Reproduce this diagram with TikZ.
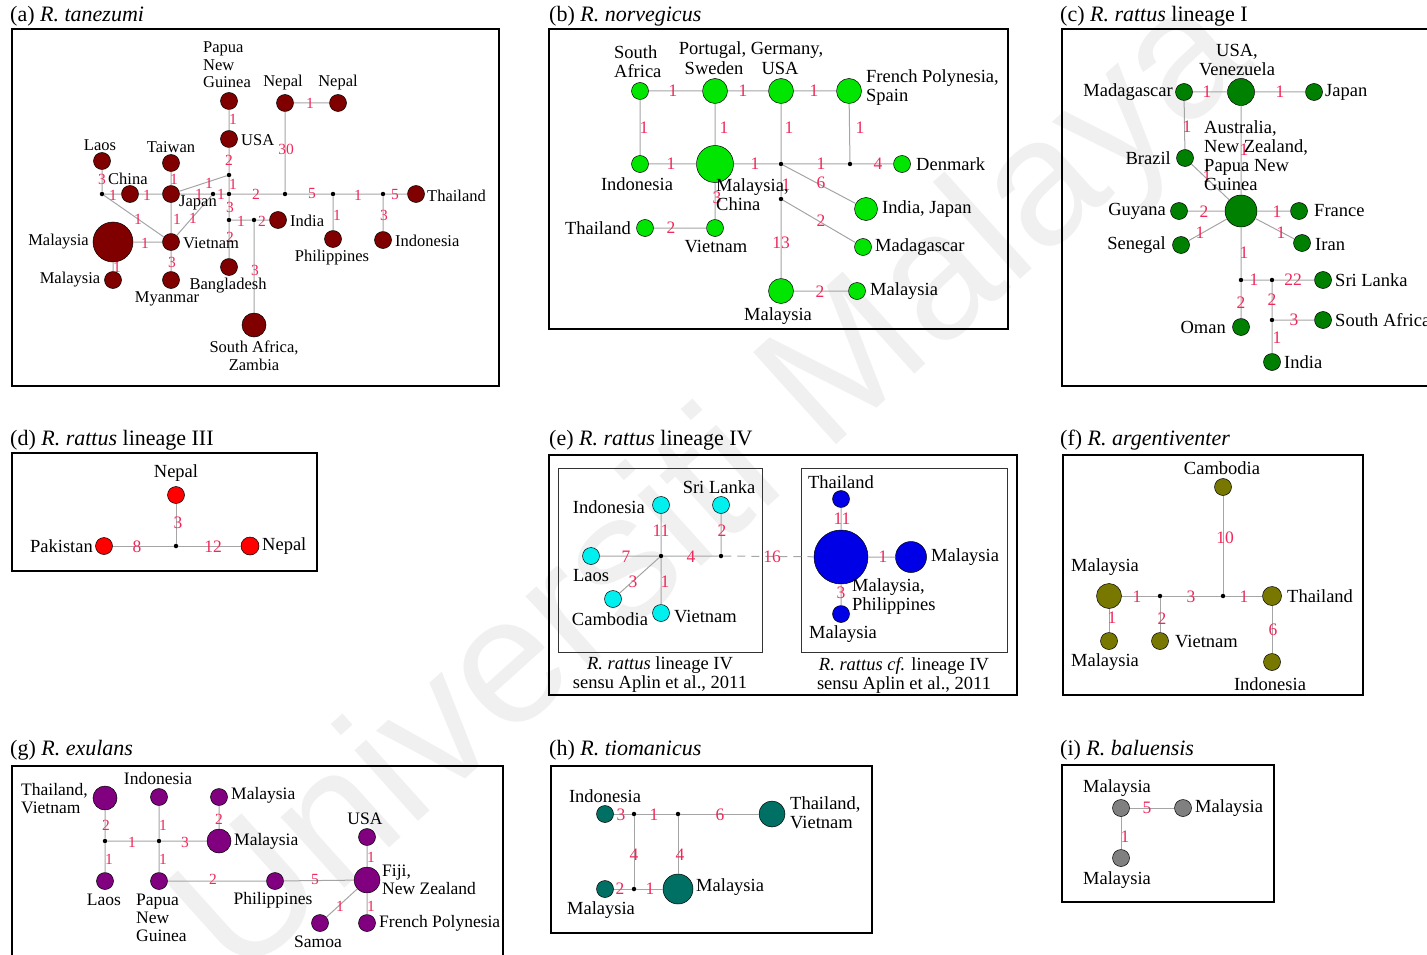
\documentclass[tikz,border=0pt]{standalone}
\usepackage{fontspec}
\setmainfont{Liberation Serif}
\newfontfamily\wmfont{Liberation Sans}
\definecolor{numred}{RGB}{240,40,90}
\definecolor{edgegray}{RGB}{165,165,165}
\definecolor{cA}{RGB}{128,0,0}
\definecolor{cB}{RGB}{0,230,0}
\definecolor{cC}{RGB}{0,128,0}
\definecolor{cD}{RGB}{255,0,0}
\definecolor{cEa}{RGB}{0,240,240}
\definecolor{cEb}{RGB}{0,0,230}
\definecolor{cF}{RGB}{120,120,0}
\definecolor{cG}{RGB}{128,0,128}
\definecolor{cH}{RGB}{0,112,100}
\definecolor{cI}{RGB}{128,128,128}
\newcommand\labfontS{\fontsize{16.5}{17.5}\selectfont}
\newcommand\labfontM{\fontsize{17.5}{18}\selectfont}
\newcommand\labfont{\fontsize{18.5}{19}\selectfont}
\newcommand\numfontS{\fontsize{15.5}{16}\selectfont}
\newcommand\numfont{\fontsize{17.5}{18}\selectfont}
\newcommand\ttlfont{\fontsize{22}{22}\selectfont}
\tikzset{
  hap/.style={circle, draw=black, line width=0.5pt, inner sep=0pt, minimum size=#1},
  hap/.default=17pt,
  med/.style={circle, fill=black, inner sep=0pt, minimum size=4.5pt},
  link/.style={draw=edgegray, line width=1pt},
  num/.style={text=numred, font=\numfont, inner sep=0pt},
  numS/.style={text=numred, font=\numfontS, inner sep=0pt},
  lab/.style={font=\labfont, inner sep=0pt},
  labS/.style={font=\labfontS, inner sep=0pt},
  labM/.style={font=\labfontM, inner sep=0pt},
  ttl/.style={font=\ttlfont, anchor=west, inner sep=0pt},
  pbox/.style={draw=black, line width=1.3pt},
  pboxthin/.style={draw=black!80, line width=0.9pt},
}
\begin{document}
\begin{tikzpicture}[x=1pt,y=-1pt]
\useasboundingbox (0,0) rectangle (1427,955);
% watermark
\node[rotate=42, text=black!6, font={\wmfont\fontsize{180}{180}\selectfont}] (wm) at (717,490) {Universiti Malaya};

% ================= (a) =================
\draw[pbox] (12,29) rectangle (499,386);
\node[ttl] (ta) at (10,16) {(a) \textit{R. tanezumi}};
\node[hap,fill=cA] (aPNG) at (229,101) {};
\node[hap,fill=cA] (aNep1) at (285,103) {};
\node[hap,fill=cA] (aNep2) at (338,103) {};
\node[hap,fill=cA] (aUSA) at (229,139) {};
\node[hap,fill=cA] (aLaos) at (102,161) {};
\node[hap,fill=cA] (aTai) at (171,163) {};
\node[hap,fill=cA] (aChi) at (130,194) {};
\node[hap,fill=cA] (aJap) at (171,194) {};
\node[hap=40pt,fill=cA] (aMal) at (113,242) {};
\node[hap,fill=cA] (aVie) at (171,242) {};
\node[hap,fill=cA] (aMal2) at (113,280) {};
\node[hap,fill=cA] (aMya) at (171,280) {};
\node[hap,fill=cA] (aBan) at (229,267) {};
\node[hap=24pt,fill=cA] (aSAZ) at (254,325) {};
\node[hap,fill=cA] (aInd) at (278,220) {};
\node[hap,fill=cA] (aPhi) at (333,239) {};
\node[hap,fill=cA] (aIdn) at (383,240) {};
\node[hap,fill=cA] (aTha) at (416,194) {};
\node[med] (am1) at (102,194) {};
\node[med] (am2) at (213,194) {};
\node[med] (am3) at (229,194) {};
\node[med] (am4) at (229,175) {};
\node[med] (am5) at (285,194) {};
\node[med] (am6) at (333,194) {};
\node[med] (am7) at (383,194) {};
\node[med] (am8) at (229,220) {};
\node[med] (am9) at (254,220) {};
\draw[link] (aPNG)--(aUSA) (aNep1)--(aNep2) (aNep1)--(am5) (aUSA)--(am4) (am4)--(am3)
  (aJap)--(am4) (aLaos)--(am1) (am1)--(aChi) (aChi)--(aJap) (aJap)--(am2) (am2)--(am3)
  (am3)--(am5) (am5)--(am6) (am6)--(am7) (am7)--(aTha) (am6)--(aPhi) (am7)--(aIdn)
  (aTai)--(aJap) (aJap)--(aVie) (am2)--(aVie) (am1)--(aVie) (aMal)--(aVie) (aMal)--(aMal2)
  (aVie)--(aMya) (am3)--(am8) (am8)--(aBan) (am8)--(am9) (am9)--(aInd) (am9)--(aSAZ);
\node[numS] (na1) at (233,119) {1};
\node[numS] (na2) at (310,103) {1};
\node[numS] (na3) at (286,149) {30};
\node[numS] (na4) at (229,160) {2};
\node[numS] (na5) at (233,184) {1};
\node[numS] (na6) at (209,183) {1};
\node[numS] (na7) at (102,179) {3};
\node[numS] (na8) at (113,195) {1};
\node[numS] (na9) at (147,195) {1};
\node[numS] (na10) at (199,194) {1};
\node[numS] (na11) at (221,194) {1};
\node[numS] (na12) at (256,194) {2};
\node[numS] (na13) at (312,194) {5};
\node[numS] (na14) at (358,195) {1};
\node[numS] (na15) at (395,195) {5};
\node[numS] (na16) at (337,215) {1};
\node[numS] (na17) at (384,215) {3};
\node[numS] (na18) at (174,179) {1};
\node[numS] (na19) at (177,219) {1};
\node[numS] (na20) at (193,218) {1};
\node[numS] (na21) at (138,219) {1};
\node[numS] (na22) at (145,243) {1};
\node[numS] (na23) at (117,267) {1};
\node[numS] (na24) at (172,262) {3};
\node[numS] (na25) at (230,207) {3};
\node[numS] (na26) at (230,237) {2};
\node[numS] (na27) at (241,221) {1};
\node[numS] (na28) at (262,221) {2};
\node[numS] (na29) at (255,270) {3};
\node[labS, anchor=west, align=left] (laPNG) at (203,65) {Papua\\New\\Guinea};
\node[labS] (laNep1) at (283,83) {Nepal};
\node[labS] (laNep2) at (338,83) {Nepal};
\node[labS, anchor=west] (laUSA) at (241,140) {USA};
\node[labS] (laLaos) at (100,145) {Laos};
\node[labS] (laTai) at (171,147) {Taiwan};
\node[labS, anchor=west] (laChi) at (108,179) {China};
\node[labS] (laJap) at (198,203) {Japan};
\node[labS, anchor=east] (laMal) at (89,242) {Malaysia};
\node[labS, anchor=west] (laVie) at (183,243) {Vietnam};
\node[labS] (laMal2) at (70,280) {Malaysia};
\node[labS] (laMya) at (167,299) {Myanmar};
\node[labS] (laBan) at (228,286) {Bangladesh};
\node[labS, align=center] (laSAZ) at (254,356) {South Africa,\\Zambia};
\node[labS, anchor=west] (laInd) at (290,221) {India};
\node[labS] (laPhi) at (332,258) {Philippines};
\node[labS, anchor=west] (laIdn) at (395,241) {Indonesia};
\node[labS, anchor=west] (laTha) at (427,196) {Thailand};

% ================= (b) =================
\draw[pbox] (549,29) rectangle (1008,329);
\node[ttl] (tb) at (549,16) {(b) \textit{R. norvegicus}};
\node[hap,fill=cB] (bSA) at (640,91) {};
\node[hap=25pt,fill=cB] (bPGS) at (715,91) {};
\node[hap=25pt,fill=cB] (bUSA) at (781,91) {};
\node[hap=25pt,fill=cB] (bFP) at (849,91) {};
\node[hap,fill=cB] (bIdn) at (640,164) {};
\node[hap=37pt,fill=cB] (bMC) at (715,164) {};
\node[med] (bm1) at (781,164) {};
\node[med] (bm2) at (850,164) {};
\node[hap,fill=cB] (bDen) at (902,164) {};
\node[med] (bm3) at (781,199) {};
\node[hap=23pt,fill=cB] (bIJ) at (866,209) {};
\node[hap,fill=cB] (bMad) at (863,247) {};
\node[hap,fill=cB] (bTha) at (645,228) {};
\node[hap,fill=cB] (bVie) at (715,228) {};
\node[hap=25pt,fill=cB] (bMal) at (781,291) {};
\node[hap,fill=cB] (bMal2) at (857,291) {};
\draw[link] (bSA)--(bPGS) (bPGS)--(bUSA) (bUSA)--(bFP) (bSA)--(bIdn) (bPGS)--(bMC)
  (bUSA)--(bm1) (bFP)--(bm2) (bIdn)--(bMC) (bMC)--(bm1) (bm1)--(bm2) (bm2)--(bDen)
  (bm1)--(bIJ) (bm1)--(bm3) (bm3)--(bMad) (bm3)--(bMal) (bMal)--(bMal2) (bMC)--(bVie)
  (bTha)--(bVie);
\node[num] (nb1) at (673,91) {1};
\node[num] (nb2) at (743,91) {1};
\node[num] (nb3) at (814,91) {1};
\node[num] (nb4) at (644,128) {1};
\node[num] (nb5) at (724,128) {1};
\node[num] (nb6) at (789,128) {1};
\node[num] (nb7) at (860,128) {1};
\node[num] (nb8) at (671,164) {1};
\node[num] (nb9) at (755,164) {1};
\node[num] (nb10) at (821,164) {1};
\node[num] (nb11) at (878,164) {4};
\node[num] (nb12) at (821,183) {6};
\node[num] (nb13) at (786,185) {1};
\node[num] (nb14) at (821,221) {2};
\node[num] (nb15) at (781,243) {13};
\node[num] (nb16) at (820,292) {2};
\node[num] (nb17) at (717,198) {3};
\node[num] (nb18) at (671,228) {2};
\node[lab, anchor=west, align=left] (lbSA) at (614,62) {South\\Africa};
\node[lab] (lbPG) at (751,50) {Portugal, Germany,};
\node[lab] (lbSw) at (714,68) {Sweden};
\node[lab] (lbUSA) at (780,68) {USA};
\node[lab, anchor=west, align=left] (lbFP) at (866,88) {French Polynesia,\\Spain};
\node[lab] (lbIdn) at (637,184) {Indonesia};
\node[lab, anchor=west, align=left] (lbMC) at (716,195) {Malaysia,\\China};
\node[lab, anchor=west] (lbDen) at (916,164) {Denmark};
\node[lab, anchor=west] (lbIJ) at (882,209) {India, Japan};
\node[lab, anchor=west] (lbMad) at (875,247) {Madagascar};
\node[lab, anchor=east] (lbTha) at (631,228) {Thailand};
\node[lab] (lbVie) at (716,247) {Vietnam};
\node[lab, anchor=west] (lbMal2) at (870,291) {Malaysia};
\node[lab] (lbMal) at (778,316) {Malaysia};

% ================= (c) =================
\draw[pbox] (1062,29) rectangle (1445,386);
\node[ttl] (tc) at (1060,16) {(c) \textit{R. rattus} lineage I};
\node[hap,fill=cC] (cMad) at (1184,92) {};
\node[hap=27pt,fill=cC] (cUV) at (1241,92) {};
\node[hap,fill=cC] (cJap) at (1314,92) {};
\node[hap,fill=cC] (cBra) at (1185,158) {};
\node[hap=32pt,fill=cC] (cCen) at (1241,211) {};
\node[hap,fill=cC] (cGuy) at (1179,211) {};
\node[hap,fill=cC] (cFra) at (1299,211) {};
\node[hap,fill=cC] (cSen) at (1181,245) {};
\node[hap,fill=cC] (cIra) at (1302,243) {};
\node[med] (cm1) at (1241,280) {};
\node[med] (cm2) at (1272,280) {};
\node[hap,fill=cC] (cSri) at (1323,280) {};
\node[med] (cm3) at (1272,320) {};
\node[hap,fill=cC] (cSAf) at (1323,320) {};
\node[hap,fill=cC] (cOma) at (1241,327) {};
\node[hap,fill=cC] (cInd) at (1272,362) {};
\draw[link] (cMad)--(cUV) (cUV)--(cJap) (cMad)--(cBra) (cUV)--(cCen) (cBra)--(cCen)
  (cGuy)--(cCen) (cCen)--(cFra) (cCen)--(cSen) (cCen)--(cIra) (cCen)--(cm1)
  (cm1)--(cm2) (cm2)--(cSri) (cm1)--(cOma) (cm2)--(cm3) (cm3)--(cSAf) (cm3)--(cInd);
\node[num] (nc1) at (1207,92) {1};
\node[num] (nc2) at (1280,92) {1};
\node[num] (nc3) at (1187,127) {1};
\node[num] (nc4) at (1244,150) {1};
\node[num] (nc5) at (1207,177) {1};
\node[num] (nc6) at (1204,212) {2};
\node[num] (nc7) at (1277,212) {1};
\node[num] (nc8) at (1200,233) {1};
\node[num] (nc9) at (1281,233) {1};
\node[num] (nc10) at (1244,253) {1};
\node[num] (nc11) at (1254,280) {1};
\node[num] (nc12) at (1293,280) {22};
\node[num] (nc13) at (1241,303) {2};
\node[num] (nc14) at (1272,300) {2};
\node[num] (nc15) at (1294,320) {3};
\node[num] (nc16) at (1277,338) {1};
\node[lab, align=center] (lcUV) at (1237,60) {USA,\\Venezuela};
\node[lab, anchor=east] (lcMad) at (1173,92) {Madagascar};
\node[lab, anchor=west] (lcJap) at (1325,92) {Japan};
\node[lab, anchor=west, align=left] (lcCen) at (1204,156) {Australia,\\New Zealand,\\Papua New\\Guinea};
\node[lab, anchor=east] (lcBra) at (1171,158) {Brazil};
\node[lab, anchor=east] (lcGuy) at (1166,211) {Guyana};
\node[lab, anchor=west] (lcFra) at (1314,211) {France};
\node[lab, anchor=east] (lcSen) at (1166,245) {Senegal};
\node[lab, anchor=west] (lcIra) at (1315,245) {Iran};
\node[lab, anchor=west] (lcSri) at (1335,280) {Sri Lanka};
\node[lab, anchor=west] (lcSAf) at (1335,320) {South Africa};
\node[lab, anchor=east] (lcOma) at (1226,327) {Oman};
\node[lab, anchor=west] (lcInd) at (1284,362) {India};

% ================= (d) =================
\draw[pbox] (12,453) rectangle (317,571);
\node[ttl] (td) at (10,440) {(d) \textit{R. rattus} lineage III};
\node[hap,fill=cD] (dNep) at (176,495) {};
\node[hap,fill=cD] (dPak) at (104,546) {};
\node[hap=18pt,fill=cD] (dNep2) at (250,546) {};
\node[med] (dm) at (176,546) {};
\draw[link] (dNep)--(dm) (dPak)--(dm) (dm)--(dNep2);
\node[num] (nd1) at (178,523) {3};
\node[num] (nd2) at (137,547) {8};
\node[num] (nd3) at (213,547) {12};
\node[lab] (ldNep) at (176,473) {Nepal};
\node[lab, anchor=east] (ldPak) at (93,546) {Pakistan};
\node[lab, anchor=west] (ldNep2) at (262,546) {Nepal};

% ================= (e) =================
\draw[pbox] (549,455) rectangle (1017,695);
\draw[pboxthin] (558,468) rectangle (762,652);
\draw[pboxthin] (801,468) rectangle (1007,652);
\node[ttl] (te) at (549,440) {(e) \textit{R. rattus} lineage IV};
\node[hap,fill=cEa] (eIdn) at (661,505) {};
\node[hap,fill=cEa] (eSri) at (721,505) {};
\node[hap,fill=cEa] (eLao) at (591,556) {};
\node[med] (em1) at (661,556) {};
\node[med] (em2) at (721,556) {};
\node[hap,fill=cEa] (eCam) at (613,599) {};
\node[hap,fill=cEa] (eVie) at (661,613) {};
\node[hap,fill=cEb] (eTha) at (841,499) {};
\node[hap=54pt,fill=cEb] (eBig) at (841,557) {};
\node[hap=31pt,fill=cEb] (eMal) at (911,557) {};
\node[hap,fill=cEb] (eMal2) at (841,614) {};
\draw[link] (eIdn)--(em1) (eSri)--(em2) (eLao)--(em1) (em1)--(em2) (em1)--(eCam)
  (em1)--(eVie) (eTha)--(eBig) (eBig)--(eMal) (eBig)--(eMal2);
\draw[link, dash pattern=on 8pt off 6pt] (em2)--(eBig);
\node[num] (ne1) at (661,531) {11};
\node[num] (ne2) at (722,531) {2};
\node[num] (ne3) at (626,557) {7};
\node[num] (ne4) at (691,557) {4};
\node[num] (ne5) at (633,582) {3};
\node[num] (ne6) at (665,582) {1};
\node[num] (ne7) at (772,557) {16};
\node[num] (ne8) at (842,519) {11};
\node[num] (ne9) at (883,557) {1};
\node[num] (ne10) at (841,593) {3};
\node[lab, anchor=east] (leIdn) at (645,507) {Indonesia};
\node[lab] (leSri) at (719,487) {Sri Lanka};
\node[lab] (leLao) at (591,576) {Laos};
\node[lab] (leCam) at (610,619) {Cambodia};
\node[lab, anchor=west] (leVie) at (674,617) {Vietnam};
\node[lab] (leTha) at (841,482) {Thailand};
\node[lab, anchor=west] (leMal) at (931,557) {Malaysia};
\node[lab, anchor=west, align=left] (leMP) at (852,597) {Malaysia,\\Philippines};
\node[lab] (leMal2) at (843,634) {Malaysia};
\node[lab, align=center] (lecap1) at (660,675) {\textit{R. rattus} lineage IV\\sensu Aplin et al., 2011};
\node[lab, align=center] (lecap2) at (904,675) {\textit{R. rattus cf.} lineage IV\\sensu Aplin et al., 2011};

% ================= (f) =================
\draw[pbox] (1063,455) rectangle (1363,695);
\node[ttl] (tf) at (1060,440) {(f) \textit{R. argentiventer}};
\node[hap,fill=cF] (fCam) at (1223,487) {};
\node[hap=25pt,fill=cF] (fMal) at (1109,596) {};
\node[med] (fm1) at (1160,596) {};
\node[med] (fm2) at (1223,596) {};
\node[hap=19pt,fill=cF] (fTha) at (1272,596) {};
\node[hap,fill=cF] (fMal2) at (1109,641) {};
\node[hap,fill=cF] (fVie) at (1160,641) {};
\node[hap,fill=cF] (fIdn) at (1272,662) {};
\draw[link] (fCam)--(fm2) (fMal)--(fm1) (fm1)--(fm2) (fm2)--(fTha) (fMal)--(fMal2)
  (fm1)--(fVie) (fTha)--(fIdn);
\node[num] (nf1) at (1225,538) {10};
\node[num] (nf2) at (1137,597) {1};
\node[num] (nf3) at (1191,597) {3};
\node[num] (nf4) at (1244,597) {1};
\node[num] (nf5) at (1112,618) {1};
\node[num] (nf6) at (1162,619) {2};
\node[num] (nf7) at (1273,630) {6};
\node[lab] (lfCam) at (1222,468) {Cambodia};
\node[lab] (lfMal) at (1105,567) {Malaysia};
\node[lab, anchor=west] (lfTha) at (1287,596) {Thailand};
\node[lab] (lfMal2) at (1105,662) {Malaysia};
\node[lab, anchor=west] (lfVie) at (1175,642) {Vietnam};
\node[lab] (lfIdn) at (1270,684) {Indonesia};

% ================= (g) =================
\draw[pbox] (12,975) -- (12,766) -- (503,766) -- (503,975);
\node[ttl] (tg) at (10,750) {(g) \textit{R. exulans}};
\node[hap=24pt,fill=cG] (gTV) at (105,798) {};
\node[hap,fill=cG] (gIdn) at (159,797) {};
\node[hap,fill=cG] (gMalT) at (219,797) {};
\node[med] (gm1) at (105,841) {};
\node[med] (gm2) at (159,841) {};
\node[hap=24pt,fill=cG] (gMalM) at (219,841) {};
\node[hap,fill=cG] (gLao) at (105,881) {};
\node[hap,fill=cG] (gPNG) at (159,881) {};
\node[hap,fill=cG] (gPhi) at (275,881) {};
\node[hap=26pt,fill=cG] (gFiji) at (367,880) {};
\node[hap,fill=cG] (gUSA) at (367,837) {};
\node[hap,fill=cG] (gSam) at (320,923) {};
\node[hap,fill=cG] (gFP) at (367,923) {};
\draw[link] (gTV)--(gm1) (gIdn)--(gm2) (gMalT)--(gMalM) (gm1)--(gm2) (gm2)--(gMalM)
  (gm1)--(gLao) (gm2)--(gPNG) (gPNG)--(gPhi) (gPhi)--(gFiji) (gUSA)--(gFiji)
  (gFiji)--(gSam) (gFiji)--(gFP);
\node[numS] (ng1) at (106,825) {2};
\node[numS] (ng2) at (163,825) {1};
\node[numS] (ng3) at (219,819) {2};
\node[numS] (ng4) at (132,842) {1};
\node[numS] (ng5) at (185,842) {3};
\node[numS] (ng6) at (109,859) {1};
\node[numS] (ng7) at (163,859) {1};
\node[numS] (ng8) at (213,879) {2};
\node[numS] (ng9) at (315,879) {5};
\node[numS] (ng10) at (371,857) {1};
\node[numS] (ng11) at (340,906) {1};
\node[numS] (ng12) at (371,906) {1};
\node[labM, anchor=west, align=left] (lgTV) at (21,799) {Thailand,\\Vietnam};
\node[labM] (lgIdn) at (158,779) {Indonesia};
\node[labM, anchor=west] (lgMalT) at (231,795) {Malaysia};
\node[labM, anchor=west] (lgMalM) at (234,841) {Malaysia};
\node[labM] (lgUSA) at (365,819) {USA};
\node[labM] (lgLao) at (104,900) {Laos};
\node[labM, anchor=west, align=left] (lgPNG) at (136,918) {Papua\\New\\Guinea};
\node[labM] (lgPhi) at (273,900) {Philippines};
\node[labM, anchor=west, align=left] (lgFiji) at (382,880) {Fiji,\\New Zealand};
\node[labM, anchor=west] (lgFP) at (379,923) {French Polynesia};
\node[labM] (lgSam) at (318,942) {Samoa};

% ================= (h) =================
\draw[pbox] (551,766) rectangle (872,933);
\node[ttl] (th) at (549,750) {(h) \textit{R. tiomanicus}};
\node[hap,fill=cH] (hIdn) at (605,814) {};
\node[med] (hm1) at (634,814) {};
\node[med] (hm2) at (678,814) {};
\node[hap=26pt,fill=cH] (hTV) at (772,814) {};
\node[hap,fill=cH] (hMal) at (605,889) {};
\node[med] (hm3) at (634,889) {};
\node[hap=30pt,fill=cH] (hBig) at (678,889) {};
\draw[link] (hIdn)--(hm1) (hm1)--(hm2) (hm2)--(hTV) (hm1)--(hm3) (hm2)--(hBig)
  (hMal)--(hm3) (hm3)--(hBig);
\node[num] (nh1) at (621,815) {3};
\node[num] (nh2) at (654,815) {1};
\node[num] (nh3) at (720,815) {6};
\node[num] (nh4) at (634,855) {4};
\node[num] (nh5) at (680,855) {4};
\node[num] (nh6) at (620,889) {2};
\node[num] (nh7) at (650,889) {1};
\node[lab] (lhIdn) at (605,796) {Indonesia};
\node[lab, anchor=west, align=left] (lhTV) at (790,813) {Thailand,\\Vietnam};
\node[lab, anchor=west] (lhBig) at (696,887) {Malaysia};
\node[lab] (lhMal) at (601,910) {Malaysia};

% ================= (i) =================
\draw[pbox] (1062,765) rectangle (1274,902);
\node[ttl] (ti) at (1060,750) {(i) \textit{R. baluensis}};
\node[hap,fill=cI] (iT) at (1121,808) {};
\node[hap,fill=cI] (iR) at (1183,808) {};
\node[hap,fill=cI] (iB) at (1121,858) {};
\draw[link] (iT)--(iR) (iT)--(iB);
\node[num] (ni1) at (1147,808) {5};
\node[num] (ni2) at (1125,837) {1};
\node[lab] (liT) at (1117,788) {Malaysia};
\node[lab, anchor=west] (liR) at (1195,808) {Malaysia};
\node[lab] (liB) at (1117,880) {Malaysia};
\end{tikzpicture}
\end{document}
